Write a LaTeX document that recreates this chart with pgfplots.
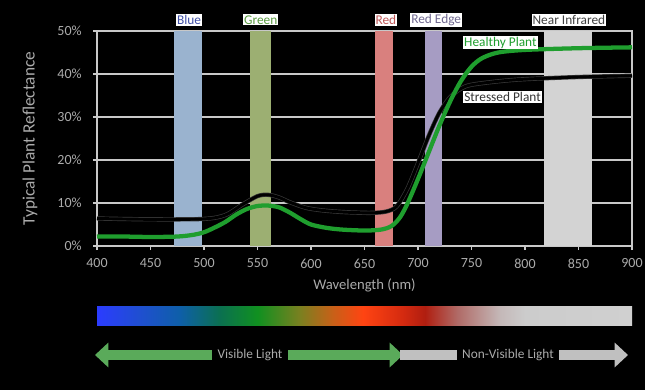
\documentclass[border=0pt]{standalone}
\usepackage{pgfplots}
\pgfplotsset{compat=1.18}
\usepackage{fontspec}
\setmainfont{Carlito}
\usetikzlibrary{arrows.meta}

\definecolor{txt}{HTML}{ABABAB}
\definecolor{gridc}{HTML}{C8C8C8}
\definecolor{bandblue}{HTML}{9AB3CF}
\definecolor{bandgreen}{HTML}{9CAF72}
\definecolor{bandred}{HTML}{D9807E}
\definecolor{bandedge}{HTML}{A69CC3}
\definecolor{bandnir}{HTML}{D3D3D3}
\definecolor{lblue}{HTML}{4050A8}
\definecolor{lgreen}{HTML}{5A9A40}
\definecolor{lred}{HTML}{C05858}
\definecolor{ledge}{HTML}{706890}
\definecolor{hgreen}{HTML}{1F9E2E}
\definecolor{agreen}{HTML}{5AAA5A}
\definecolor{agray}{HTML}{C0C0C0}

\definecolor{c0}{HTML}{2B3CFF}
\definecolor{c1}{HTML}{1F4FD0}
\definecolor{c2}{HTML}{0E5FA8}
\definecolor{c3}{HTML}{0B7050}
\definecolor{c4}{HTML}{109020}
\definecolor{c5}{HTML}{7A8020}
\definecolor{c6}{HTML}{C86018}
\definecolor{c7}{HTML}{FF4412}
\definecolor{c8}{HTML}{D42A10}
\definecolor{c9}{HTML}{B01E10}
\definecolor{c10}{HTML}{B06A66}
\definecolor{c11}{HTML}{C4B8B8}
\definecolor{c12}{HTML}{CCCCCC}
\definecolor{c13}{HTML}{D0D0D0}

\pgfdeclarehorizontalshading{spectrum}{100bp}{color(0bp)=(c0); color(25bp)=(c0); color(29bp)=(c1); color(32.75bp)=(c2); color(36.5bp)=(c3); color(40bp)=(c4); color(43.95bp)=(c5); color(47.05bp)=(c6); color(49.85bp)=(c7); color(53.6bp)=(c8); color(55.65bp)=(c9); color(58.65bp)=(c10); color(62.65bp)=(c11); color(65bp)=(c12); color(75bp)=(c13); color(100bp)=(c13)}

\pgfplotstableread{
x y
400 2.2
425 2.2
450 2.1
475 2.2
490 2.6
500 3.2
510 4.3
520 5.6
530 7.3
540 8.6
550 9.3
560 9.4
570 9.0
580 7.8
590 6.3
600 5.0
615 4.2
630 3.8
650 3.6
665 3.8
675 4.6
683 6.6
690 9.8
700 15.6
710 21.8
720 28.0
730 33.6
740 38.3
750 41.7
760 43.7
775 45.0
800 45.6
850 46.0
900 46.2
}\healthy

\pgfplotstableread{
x y
400 6.4
450 6.2
500 6.3
520 7.2
535 9.5
550 11.6
560 11.9
570 11.3
580 10.2
595 8.9
610 8.3
630 7.9
655 7.7
670 8.0
680 9.2
690 13.3
700 19.3
710 25.6
720 31.0
730 34.6
740 36.6
750 37.5
775 38.3
800 38.8
850 39.3
900 39.6
}\stressed

\begin{document}
\begin{tikzpicture}[x=0.75pt,y=0.75pt]
\fill[black] (0,0) rectangle (645,390);
\useasboundingbox (0,0) rectangle (645,390);
\begin{axis}[
  at={(72.75pt,108pt)}, anchor=south west,
  scale only axis, width=401.25pt, height=161.25pt,
  xmin=400, xmax=900, ymin=0, ymax=50,
  xtick={400,450,...,900}, ytick={0,10,...,50},
  yticklabel={\pgfmathprintnumber{\tick}\%},
  /pgf/number format/assume math mode=true,
  axis line style={draw=gridc, line width=0.9pt},
  ymajorgrids, grid style={draw=gridc, line width=0.9pt},
  tick style={draw=gridc, line width=0.8pt}, tick align=outside, tick pos=left,
  major tick length=3pt,
  ticklabel style={font=\fontsize{10.5}{12}\selectfont, text=txt},
  yticklabel style={xshift=-5pt},
  xticklabel style={yshift=-3pt},
  xlabel={Wavelength (nm)}, ylabel={Typical Plant Reflectance},
  xlabel style={at={(axis description cs:0.5,-0.181)}, anchor=center, font=\fontsize{11}{13}\selectfont, text=txt},
  ylabel style={at={(axis description cs:-0.125,0.5)}, anchor=center, font=\fontsize{13}{15}\selectfont, text=txt},
  clip=false,
]
\addplot[draw=none, fill=bandblue, forget plot] coordinates {(472,0)(472,50)(498,50)(498,0)};
\addplot[draw=none, fill=bandgreen, forget plot] coordinates {(543,0)(543,50)(563,50)(563,0)};
\addplot[draw=none, fill=bandred, forget plot] coordinates {(660,0)(660,50)(677,50)(677,0)};
\addplot[draw=none, fill=bandedge, forget plot] coordinates {(707,0)(707,50)(722,50)(722,0)};
\addplot[draw=none, fill=bandnir, forget plot] coordinates {(818,0)(818,50)(863,50)(863,0)};

\addplot[smooth, tension=0.5, black, line width=2.2pt, preaction={draw=gray!45!black, line width=3.2pt}] table[x=x,y=y] {\stressed};
\addplot[smooth, tension=0.5, hgreen, line width=3.2pt] table[x=x,y=y] {\healthy};

\begin{scope}[every node/.style={font=\fontsize{10}{12}\selectfont, fill=white, inner sep=0.8pt}]
\node[text=lblue] at (axis cs:486,52.6) {Blue};
\node[text=lgreen] at (axis cs:553,52.6) {Green};
\node[text=lred] at (axis cs:670,52.6) {Red};
\node[text=ledge] at (axis cs:717,52.6) {Red Edge};
\node[text=black!75] at (axis cs:841,52.6) {Near Infrared};
\node[text=hgreen] at (axis cs:777,47.3) {Healthy Plant};
\node[text=black!80] at (axis cs:779,34.7) {Stressed Plant};
\end{scope}
\end{axis}

\shade[shading=spectrum] (97,65) rectangle (632,84);

\draw[agreen, line width=8pt, {Triangle[width=18pt,length=10pt]}-{Triangle[width=18pt,length=10pt]}] (95,35) -- (403,35);
\draw[agray, line width=8pt, -{Triangle[width=18pt,length=10pt]}] (400,35) -- (628,35);
\node[fill=black, text=txt, font=\fontsize{10}{12}\selectfont, inner xsep=4pt] at (250,35) {Visible Light};
\node[fill=black, text=txt, font=\fontsize{10}{12}\selectfont, inner xsep=4pt] at (508,35) {Non-Visible Light};
\end{tikzpicture}
\end{document}
